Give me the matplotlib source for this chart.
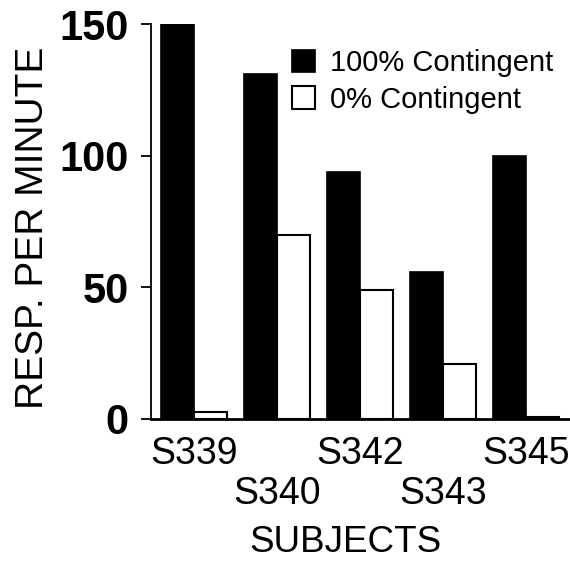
import matplotlib

matplotlib.use("Agg")
matplotlib.rcParams["font.family"] = ["Liberation Sans", "DejaVu Sans"]
import matplotlib.pyplot as plt
import numpy as np

subjects = ["S339", "S340", "S342", "S343", "S345"]
contingent_100 = [150, 131, 94, 56, 100]
contingent_0 = [2.5, 70, 49, 21, 0.8]

x = np.arange(len(subjects))
width = 0.4

fig = plt.figure(figsize=(5.7, 5.63), dpi=100)
ax = fig.add_axes([0.265, 0.2558, 0.735, 0.7007])

b1 = ax.bar(x - width / 2, contingent_100, width, color="black", edgecolor="black", linewidth=1.2,
            label="100% Contingent")
b2 = ax.bar(x + width / 2, contingent_0, width, color="white", edgecolor="black", linewidth=1.5,
            label="0% Contingent")

ax.set_xlim(-0.52, 4.53)
ax.set_ylim(0, 150)
ax.set_yticks([0, 50, 100, 150])
ax.set_yticklabels(["0", "50", "100", "150"], fontsize=30, fontweight="bold")
ax.tick_params(axis="y", direction="out", length=7, width=1.3, pad=9)

ax.set_xticks(x)
ax.set_xticklabels(subjects, fontsize=27)
ax.tick_params(axis="x", length=0)
for i, tick in enumerate(ax.xaxis.get_major_ticks()):
    tick.set_pad(12 if i % 2 == 0 else 41)

ax.spines["top"].set_visible(False)
ax.spines["right"].set_visible(False)
ax.spines["left"].set_linewidth(1.3)
ax.spines["bottom"].set_linewidth(2)
ax.spines["left"].set_bounds(0, 150)

ax.set_ylabel("RESP. PER MINUTE", fontsize=28)
ax.yaxis.set_label_coords(-0.24, 0.484)
ax.set_xlabel("SUBJECTS", fontsize=26.5)
ax.xaxis.set_label_coords(0.465, -0.27)

ax.legend(handles=[b1, b2], loc="upper left", bbox_to_anchor=(292 / 570, 1 - 49 / 563),
          bbox_transform=fig.transFigure, frameon=False, fontsize=21,
          handlelength=0.8, handleheight=0.8, handletextpad=0.5, labelspacing=0.3,
          borderpad=0, borderaxespad=0)

fig.savefig("out.png", dpi=100, facecolor="white")
